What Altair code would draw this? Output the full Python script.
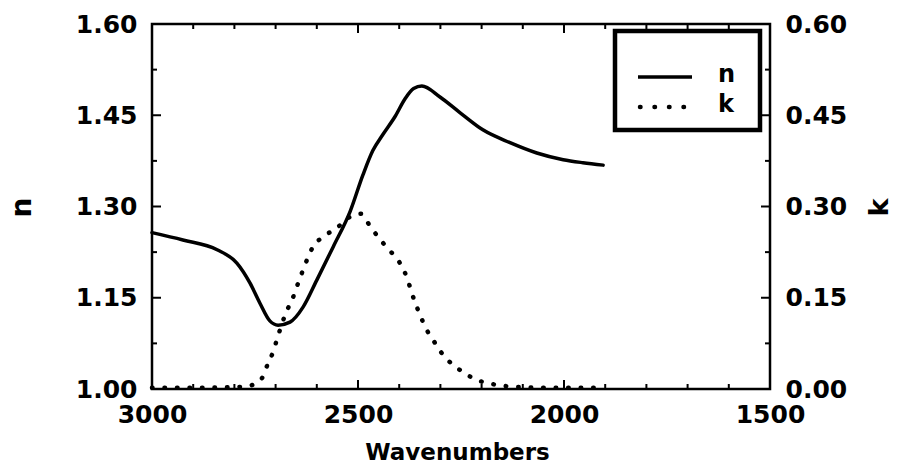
import altair as alt
import pandas as pd

# Refractive index n versus wavenumber (cm^-1)
wn_n = [3000, 2925, 2842, 2794, 2762, 2738, 2714, 2694, 2665, 2633, 2600, 2560,
        2519, 2488, 2464, 2440, 2410, 2385, 2365, 2345, 2301, 2252, 2197, 2131,
        2066, 2002, 1954, 1905]
n_vals = [1.257, 1.245, 1.229, 1.207, 1.174, 1.141, 1.112, 1.105, 1.110, 1.135,
          1.179, 1.234, 1.292, 1.352, 1.392, 1.418, 1.448, 1.478, 1.494, 1.498,
          1.480, 1.454, 1.426, 1.405, 1.388, 1.377, 1.372, 1.368]

# Extinction coefficient k versus wavenumber
wn_k = [3000, 2900, 2800, 2760, 2733, 2718, 2706, 2697, 2675, 2658, 2648, 2636,
        2624, 2609, 2585, 2551, 2524, 2493, 2471, 2449, 2425, 2400, 2383, 2374,
        2362, 2350, 2337, 2318, 2299, 2272, 2245, 2216, 2187, 2155, 2100, 2000,
        1905]
k_vals = [0.002, 0.002, 0.003, 0.006, 0.018, 0.043, 0.061, 0.081, 0.125, 0.150,
          0.169, 0.191, 0.212, 0.234, 0.250, 0.265, 0.281, 0.288, 0.268, 0.248,
          0.229, 0.209, 0.186, 0.168, 0.143, 0.123, 0.102, 0.081, 0.061, 0.041,
          0.028, 0.016, 0.010, 0.006, 0.003, 0.002, 0.002]

# Tick positions
x_major = [3000, 2500, 2000, 1500]
x_minor = [2900, 2800, 2700, 2600, 2400, 2300, 2200, 2100, 1900, 1800, 1700, 1600]
n_major = [1.00, 1.15, 1.30, 1.45, 1.60]
n_minor = [1.075, 1.225, 1.375, 1.525]
k_labels = [0.00, 0.15, 0.30, 0.45, 0.60]

legend_labels = ["n", "k"]

W, H = 618, 365
FONT = "DejaVu Sans"
WEIGHT = "bold"
MAJOR, MINOR = 9, 5

df_n = pd.DataFrame({"wn": wn_n, "n": n_vals})
df_k = pd.DataFrame({"wn": wn_k, "k": k_vals})

x_scale = alt.Scale(domain=[1500, 3000], reverse=True, nice=False, zero=False)
n_scale = alt.Scale(domain=[1.0, 1.6], nice=False, zero=False)
k_scale = alt.Scale(domain=[0.0, 0.6], nice=False, zero=False)

x_axis = alt.Axis(values=x_major, format="d", ticks=False, domain=False, grid=False,
                  labelFontSize=25, labelPadding=13, labelFlush=False,
                  title="Wavenumbers", titleFontSize=23,
                  titleX=305, titleY=70, titleAlign="center",
                  titleBaseline="alphabetic")
n_axis = alt.Axis(orient="left", values=n_major, format=".2f", ticks=False,
                  domain=False, grid=False, labelFontSize=25, labelPadding=15,
                  title="n", titleFontSize=28,
                  titleAngle=270, titleX=-122, titleY=183, titleAlign="center",
                  titleBaseline="alphabetic")
k_axis = alt.Axis(orient="right", values=k_labels, format=".2f", ticks=False,
                  domain=False, grid=False, labelFontSize=25, labelPadding=15,
                  title="k", titleFontSize=27,
                  titleAngle=270, titleX=117, titleY=183, titleAlign="center",
                  titleBaseline="alphabetic")

x_enc = alt.X("wn:Q", scale=x_scale, axis=x_axis)
n_enc = alt.Y("n:Q", scale=n_scale, axis=n_axis)
k_enc = alt.Y("k:Q", scale=k_scale, axis=k_axis)

n_line = alt.Chart(df_n).mark_line(
    color="black", strokeWidth=3.5, interpolate="monotone", strokeCap="round"
).encode(x=x_enc, y=n_enc)

k_line = alt.Chart(df_k).mark_line(
    color="black", strokeWidth=4.5, interpolate="monotone",
    strokeDash=[0.5, 12], strokeCap="round"
).encode(x=x_enc, y=k_enc)


def x_ticks(values, length):
    d = pd.DataFrame({"wn": values})
    bottom = alt.Chart(d).mark_rule(color="black", strokeWidth=2).encode(
        x=x_enc, y=alt.value(H), y2=alt.value(H - length))
    top = alt.Chart(d).mark_rule(color="black", strokeWidth=2).encode(
        x=x_enc, y=alt.value(0), y2=alt.value(length))
    return [bottom, top]


def y_ticks(values, length):
    d = pd.DataFrame({"n": values})
    left = alt.Chart(d).mark_rule(color="black", strokeWidth=2).encode(
        y=n_enc, x=alt.value(0), x2=alt.value(length))
    right = alt.Chart(d).mark_rule(color="black", strokeWidth=2).encode(
        y=n_enc, x=alt.value(W), x2=alt.value(W - length))
    return [left, right]


tick_layers = (x_ticks(x_major, MAJOR) + x_ticks(x_minor, MINOR)
               + y_ticks(n_major[1:-1], MAJOR) + y_ticks(n_minor, MINOR))

n_group = alt.layer(n_line, *tick_layers)

# Legend box in the upper right corner
leg_box = alt.Chart(pd.DataFrame({"label": ["box"]})).mark_rect(
    fill="white", stroke="black", strokeWidth=4.5
).encode(x=alt.value(463), x2=alt.value(608), y=alt.value(7), y2=alt.value(106))

leg_n = pd.DataFrame({"label": [legend_labels[0]]})
leg_k = pd.DataFrame({"label": [legend_labels[1]]})

leg_n_line = alt.Chart(leg_n).mark_rule(color="black", strokeWidth=3.5).encode(
    x=alt.value(486), x2=alt.value(540), y=alt.value(53))
leg_k_line = alt.Chart(leg_k).mark_rule(
    color="black", strokeWidth=4.5, strokeDash=[0.5, 14], strokeCap="round"
).encode(x=alt.value(488), x2=alt.value(532), y=alt.value(83))
leg_n_text = alt.Chart(leg_n).mark_text(
    font=FONT, fontSize=24, fontWeight=WEIGHT, align="left", baseline="middle",
    color="black"
).encode(x=alt.value(566), y=alt.value(51), text="label:N")
leg_k_text = alt.Chart(leg_k).mark_text(
    font=FONT, fontSize=24, fontWeight=WEIGHT, align="left", baseline="middle",
    color="black"
).encode(x=alt.value(566), y=alt.value(81), text="label:N")

chart = alt.layer(
    n_group, k_line, leg_box, leg_n_line, leg_k_line, leg_n_text, leg_k_text
).resolve_scale(
    y="independent"
).properties(
    width=W, height=H, autosize="none",
    padding={"left": 152, "top": 24, "right": 127, "bottom": 75},
    background="white",
).configure_view(
    stroke="black", strokeWidth=2.5
).configure_axis(
    labelFont=FONT, titleFont=FONT, labelColor="black", titleColor="black",
    labelFontWeight=WEIGHT, titleFontWeight=WEIGHT
)

chart.save("out.html", embed_options={"renderer": "svg", "actions": False})
